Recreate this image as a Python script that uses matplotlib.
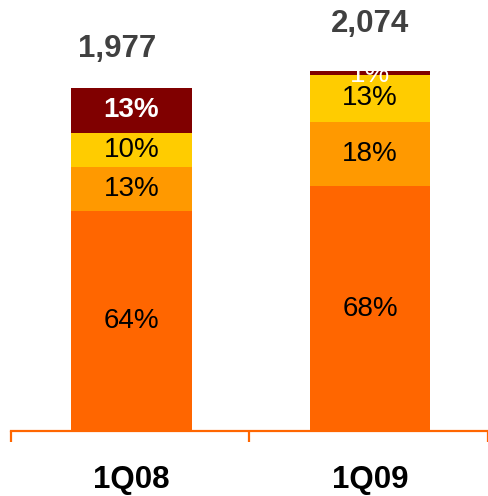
import matplotlib
matplotlib.use('Agg')
import matplotlib.pyplot as plt
import numpy as np

plt.rcParams['font.family'] = ['Liberation Sans', 'DejaVu Sans']

quarters = ['1Q08', '1Q09']
totals = [1977, 2074]
# share of each segment, bottom to top
share_base = [64, 68]
share_second = [13, 18]
share_third = [10, 13]
share_top = [13, 1]

seg_colors = ['#FF6600', '#FF9900', '#FFCC00', '#800000']
seg_text = ['black', 'black', 'black', 'white']
total_offset = [(-10, 17), (0, 23)]   # points from the bar top

fig = plt.figure(figsize=(4.89, 4.96), dpi=100)
ax = fig.add_axes([11/489, 65/496, 477/489, 431/496])

x = np.array([0.505, 1.505])
shares = np.array([share_base, share_second, share_third, share_top], dtype=float)
totals_a = np.array(totals, dtype=float)
bottom = np.zeros(2)
for i, sh in enumerate(shares):
    h = totals_a * sh / 100.0
    bars = ax.bar(x, h, width=0.505, bottom=bottom, color=seg_colors[i], zorder=2)
    for j, (b, v) in enumerate(zip(bars, sh)):
        if v < 5:
            # tiny slice: label mostly hidden, like the original
            t = ax.text(x[j], bottom[j], '%d%%' % v, ha='center', va='center',
                        fontsize=20, color=seg_text[i], zorder=3)
            t.set_clip_path(b)
        else:
            wt = 'bold' if i == 3 else 'normal'
            ax.text(x[j], bottom[j] + h[j] / 2, '%d%%' % v, ha='center', va='center',
                    fontsize=20, color=seg_text[i], fontweight=wt, zorder=3)
    bottom = bottom + h

for j in range(2):
    ax.annotate('{:,}'.format(totals[j]), xy=(x[j], totals[j]), xytext=total_offset[j],
                textcoords='offset points', ha='center', va='bottom',
                fontsize=22.5, fontweight='bold', color='#404040')

ax.set_xlim(0, 2)
ax.set_ylim(0, 2484)
for s in ['top', 'right', 'left']:
    ax.spines[s].set_visible(False)
ax.spines['bottom'].set_color('#FF6600')
ax.spines['bottom'].set_linewidth(1.6)
ax.set_yticks([])
ax.set_xticks([0, 1, 2])
ax.set_xticklabels([])
ax.tick_params(axis='x', direction='out', length=8, width=1.6, color='#FF6600')
for j in range(2):
    ax.text(x[j], -0.113, quarters[j], transform=ax.get_xaxis_transform(),
            ha='center', va='center', fontsize=22.5, fontweight='bold', color='black')

fig.savefig('out.png', dpi=100)
